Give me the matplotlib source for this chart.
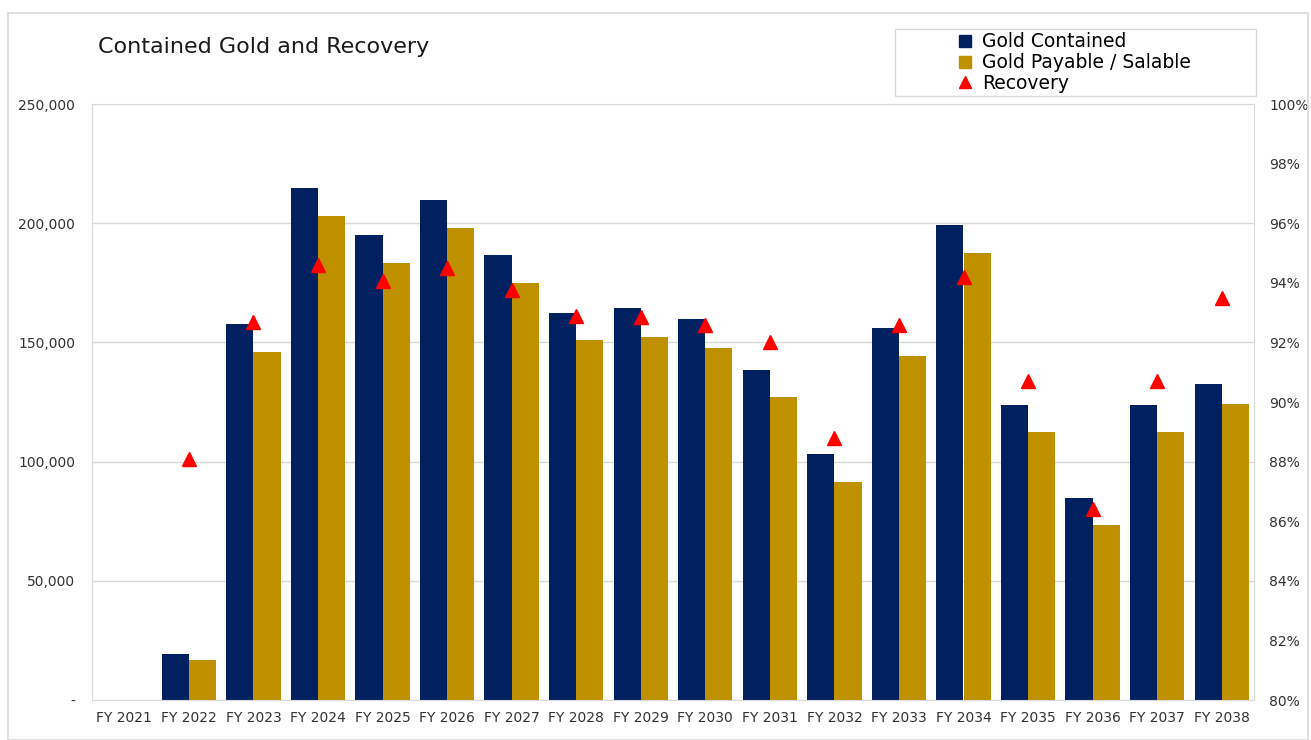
import numpy as np
import matplotlib
matplotlib.use("Agg")
import matplotlib.pyplot as plt
from matplotlib.patches import Rectangle
from matplotlib.lines import Line2D
from matplotlib.ticker import FuncFormatter

plt.rcParams["font.family"] = ["DejaVu Sans"]

years = [f"FY {y}" for y in range(2021, 2039)]
gold_contained = [0, 19300, 157700, 214800, 195000, 209700, 186700, 162300, 164400,
                  159800, 138400, 103200, 156000, 199200, 123700, 84700, 123700, 132500]
gold_payable = [0, 16800, 146000, 203000, 183300, 198000, 175000, 151000, 152300,
                147700, 127100, 91400, 144300, 187500, 112400, 73400, 112400, 124200]
recovery = [np.nan, 88.1, 92.7, 94.6, 94.05, 94.5, 93.75, 92.9, 92.85,
            92.6, 92.0, 88.8, 92.6, 94.2, 90.7, 86.4, 90.7, 93.5]

NAVY = "#012060"
GOLD = "#bf9000"
GRID = "#d9d9d9"

fig = plt.figure(figsize=(13.11, 7.4), dpi=100)
ax = fig.add_axes([92 / 1311, 1 - 700 / 740, (1254 - 92) / 1311, (700 - 104) / 740])

x = np.arange(len(years))
w = 0.42
ax.bar(x - w / 2, gold_contained, w, color=NAVY, zorder=2)
ax.bar(x + w / 2, gold_payable, w, color=GOLD, zorder=2)

ax.set_xlim(-0.5, len(years) - 0.5)
ax.set_ylim(0, 250000)
ax.set_yticks(np.arange(0, 250001, 50000))
ax.yaxis.set_major_formatter(FuncFormatter(lambda v, p: "-" if v == 0 else f"{int(v):,}"))
ax.set_xticks(x)
ax.set_xticklabels(years)
ax.grid(axis="y", color=GRID, lw=1, zorder=0)
for s in ax.spines.values():
    s.set_color(GRID)
ax.tick_params(axis="both", length=0, labelsize=10, colors="#333333")
ax.tick_params(axis="y", pad=12)
ax.tick_params(axis="x", pad=8)

ax2 = ax.twinx()
ax2.plot(x, recovery, ls="none", marker="^", color="#ff0000", ms=10, zorder=3)
ax2.set_ylim(80, 100)
ax2.set_yticks(np.arange(80, 100.1, 2))
ax2.yaxis.set_major_formatter(FuncFormatter(lambda v, p: f"{v:.0f}%"))
ax2.tick_params(axis="y", length=0, labelsize=10, colors="#333333", pad=11)
for s in ax2.spines.values():
    s.set_visible(False)

fig.text(98 / 1311, 1 - 47 / 740, "Contained Gold and Recovery", fontsize=16,
         va="center", ha="left", color="#1a1a1a")

# outer chart border
fig.patches.append(Rectangle((8 / 1311, 0), 1300 / 1311, 1 - 13 / 740,
                             transform=fig.transFigure, fill=False,
                             edgecolor=GRID, lw=1.2))
# legend frame
fig.patches.append(Rectangle((895 / 1311, 1 - 96 / 740), 361 / 1311, 67 / 740,
                             transform=fig.transFigure, fill=False,
                             edgecolor=GRID, lw=1))

handles = [
    Line2D([], [], ls="none", marker="s", color=NAVY, ms=8),
    Line2D([], [], ls="none", marker="s", color=GOLD, ms=8),
    Line2D([], [], ls="none", marker="^", color="#ff0000", ms=9),
]
fig.legend(handles, ["Gold Contained", "Gold Payable / Salable", "Recovery"],
           loc="upper left", bbox_to_anchor=(944 / 1311, 1 - 21 / 740),
           frameon=False, fontsize=13.5, handlelength=1.0, handletextpad=0.45,
           labelspacing=0.1, borderpad=0.1)

fig.savefig("out.png", dpi=100)
